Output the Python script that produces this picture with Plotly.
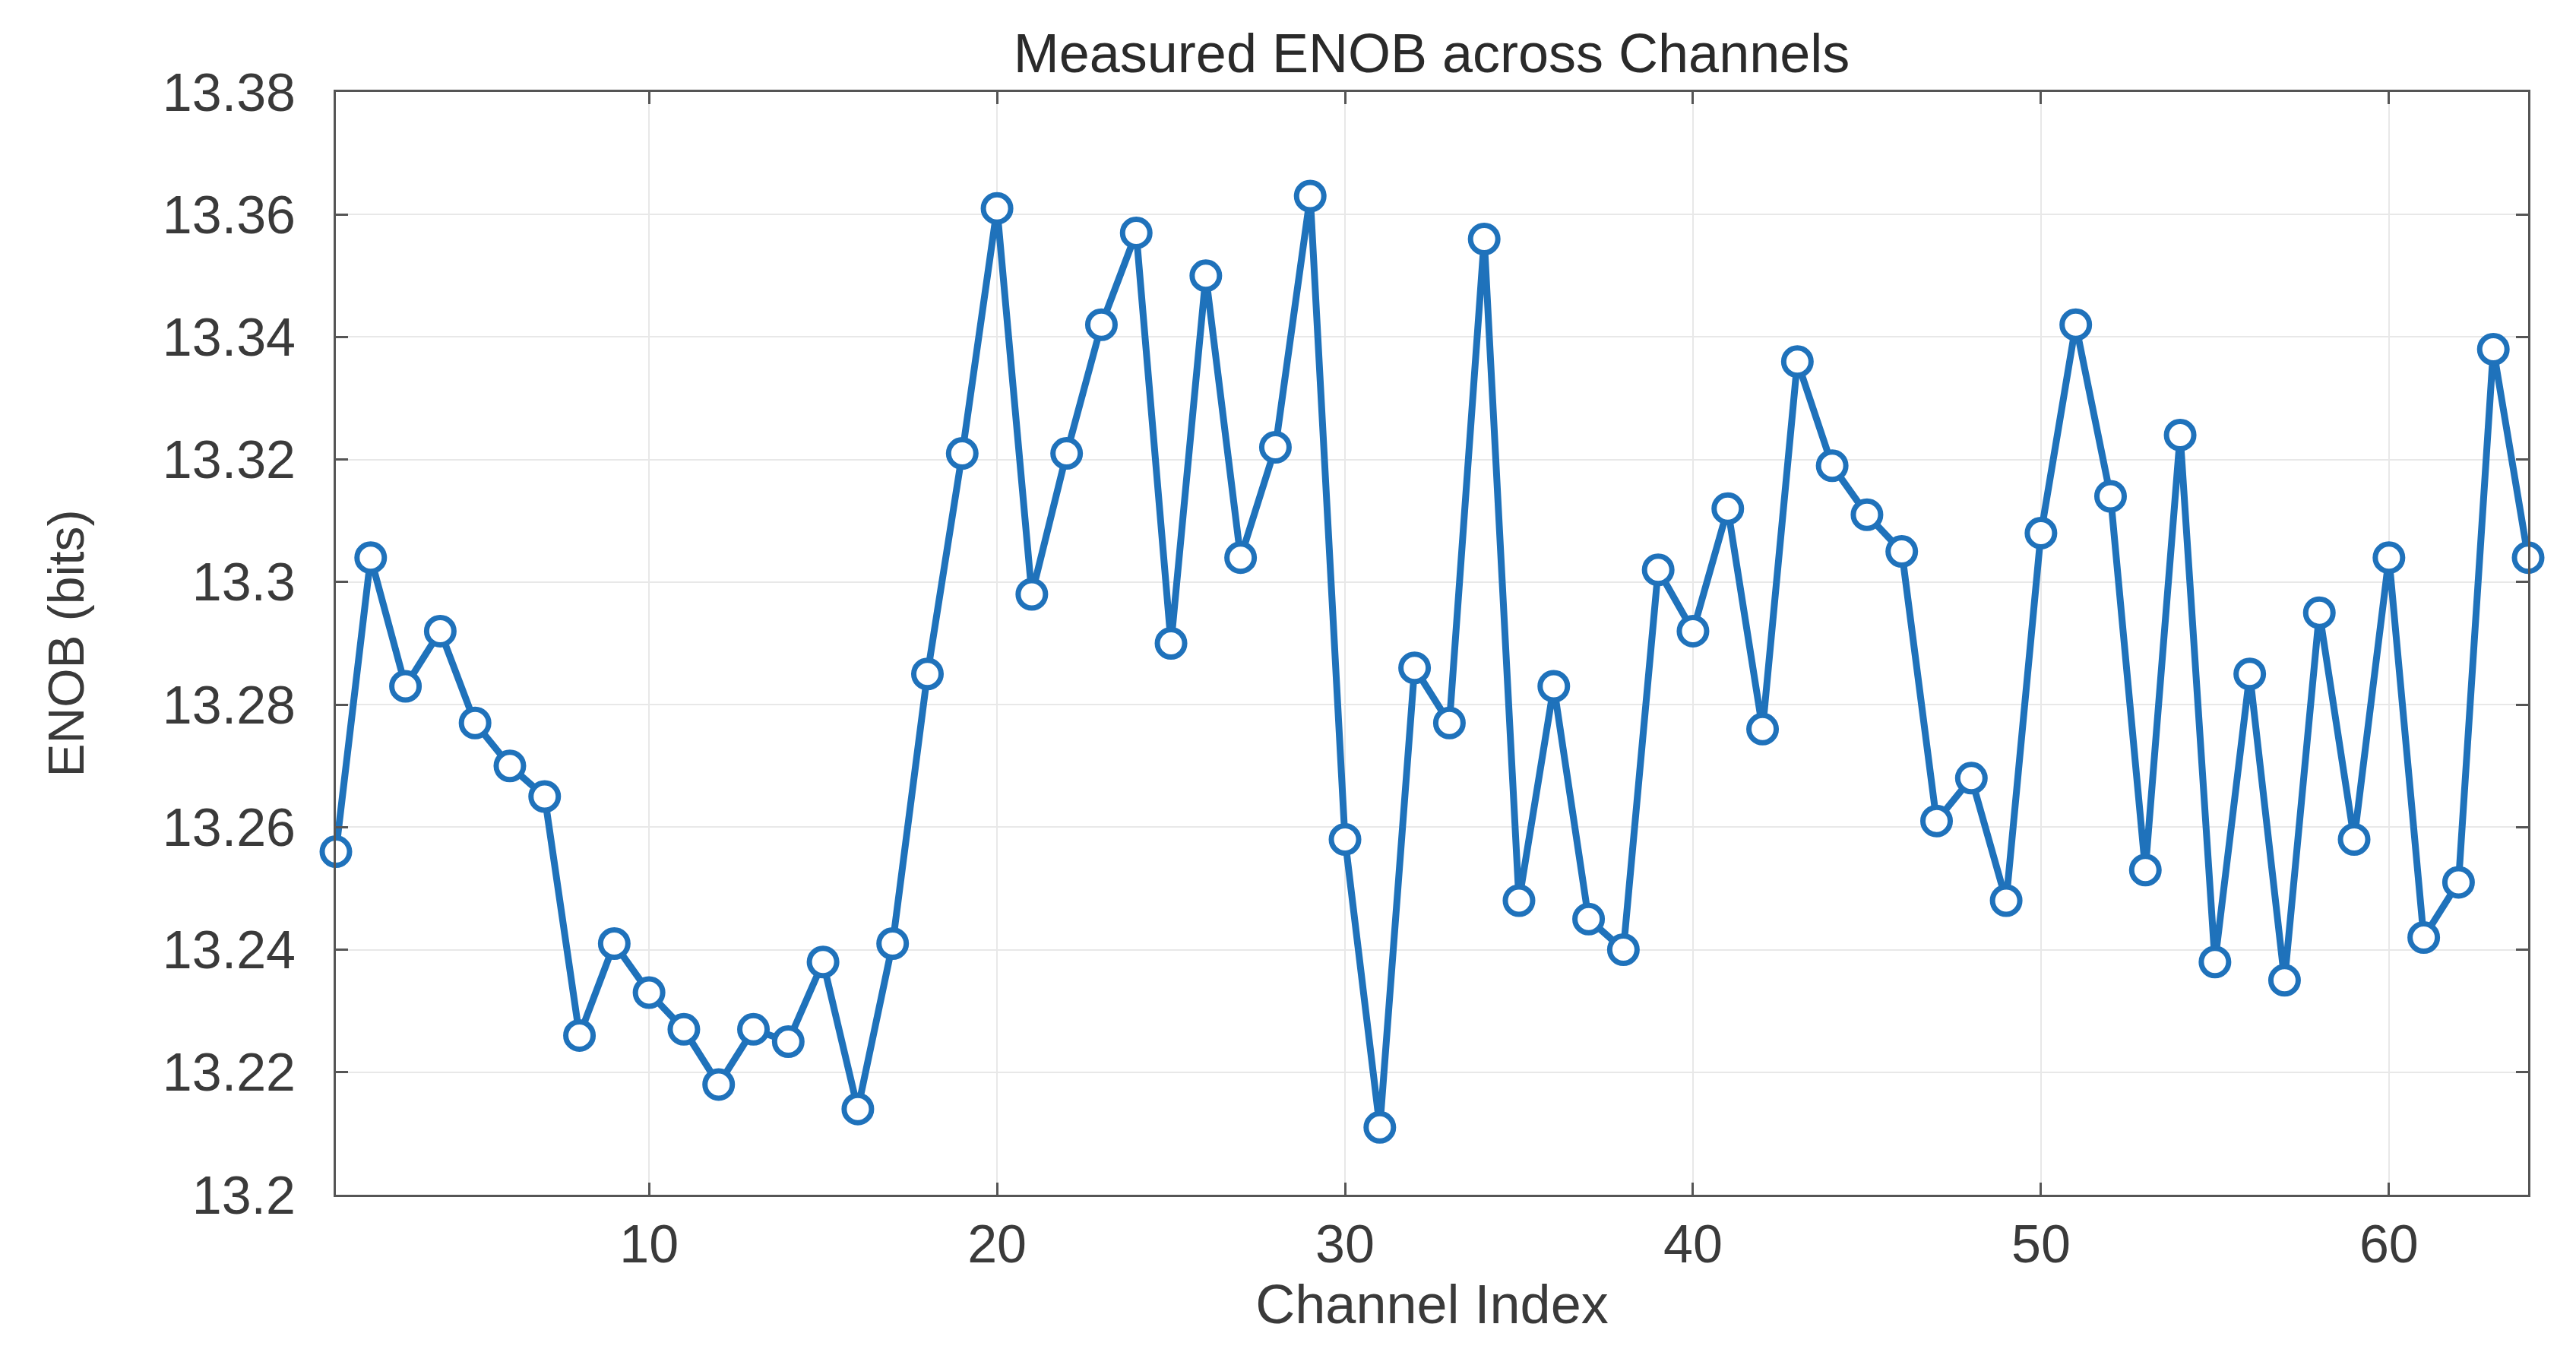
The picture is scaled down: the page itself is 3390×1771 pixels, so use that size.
import plotly.graph_objects as go

channels = list(range(1, 65))
enob = [
    13.256, 13.304, 13.283, 13.292, 13.277, 13.270, 13.265, 13.226, 13.241, 13.233,
    13.227, 13.218, 13.227, 13.225, 13.238, 13.214, 13.241, 13.285, 13.321, 13.361,
    13.298, 13.321, 13.342, 13.357, 13.290, 13.350, 13.304, 13.322, 13.363, 13.258,
    13.211, 13.286, 13.277, 13.356, 13.248, 13.283, 13.245, 13.240, 13.302, 13.292,
    13.312, 13.276, 13.336, 13.319, 13.311, 13.305, 13.261, 13.268, 13.248, 13.308,
    13.342, 13.314, 13.253, 13.324, 13.238, 13.285, 13.235, 13.295, 13.258, 13.304,
    13.242, 13.251, 13.338, 13.304,
]
x_ticks = [10, 20, 30, 40, 50, 60]
x_tick_labels = ["10", "20", "30", "40", "50", "60"]
y_ticks = [13.2, 13.22, 13.24, 13.26, 13.28, 13.3, 13.32, 13.34, 13.36, 13.38]
y_tick_labels = ["13.2", "13.22", "13.24", "13.26", "13.28", "13.3", "13.32", "13.34", "13.36", "13.38"]

BLUE = "#1f72bb"
AXIS = "#555555"
TXT = "#3a3a3a"
FONT = "Liberation Sans, Arial, sans-serif"

fig = go.Figure()
fig.add_trace(go.Scatter(
    x=channels, y=enob, mode="lines+markers",
    line=dict(color=BLUE, width=9),
    marker=dict(symbol="circle", size=36, color="white",
                line=dict(color=BLUE, width=7)),
    showlegend=False, cliponaxis=False,
))

axis_common = dict(
    showline=True, linecolor=AXIS, linewidth=3, mirror="allticks",
    ticks="inside", ticklen=16, tickwidth=3, tickcolor=AXIS,
    showgrid=True, gridcolor="#e8e8e8", gridwidth=2,
    zeroline=False,
    tickfont=dict(family=FONT, size=70, color=TXT),
)

fig.update_layout(
    width=3390, height=1771,
    margin=dict(l=434, r=71, t=113, b=207),
    paper_bgcolor="white", plot_bgcolor="white",
    font=dict(family=FONT, color=TXT),
    title=dict(text="Measured ENOB across Channels", x=0.5534, xanchor="center",
               y=1 - 62 / 1771, yanchor="middle",
               font=dict(family=FONT, size=72, color="#2a2a2a")),
    xaxis=dict(
        range=[1, 64], tickvals=x_ticks, ticktext=x_tick_labels,
        ticklabelstandoff=2,
        title=dict(text="Channel Index", standoff=14,
                   font=dict(family=FONT, size=72, color=TXT)),
        **axis_common,
    ),
    yaxis=dict(
        range=[13.2, 13.38], tickvals=y_ticks, ticktext=y_tick_labels,
        ticklabelstandoff=36,
        title=dict(text="ENOB (bits)", standoff=82,
                   font=dict(family=FONT, size=66, color=TXT)),
        **axis_common,
    ),
)

fig.write_html("out.html")
